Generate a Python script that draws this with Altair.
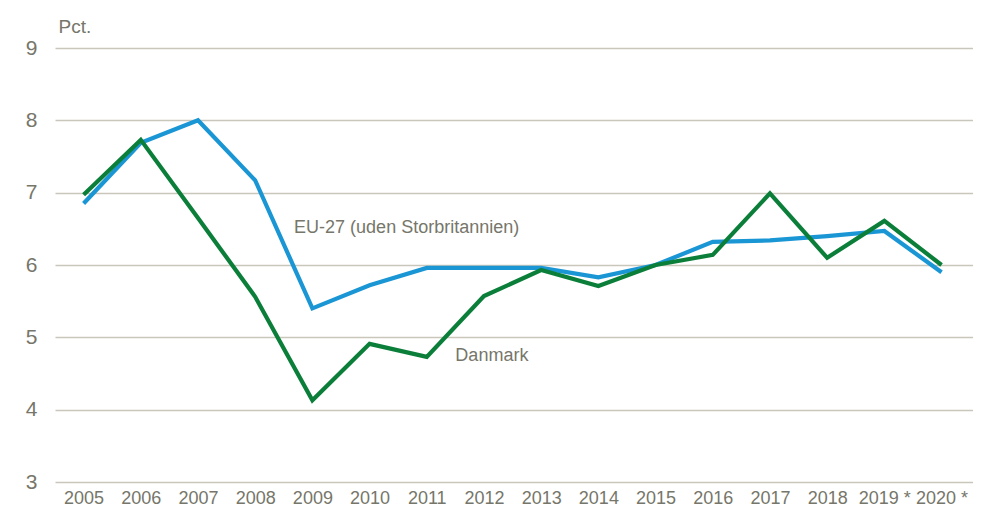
import altair as alt
import pandas as pd

years = list(range(2005, 2021))
year_labels = ["2005", "2006", "2007", "2008", "2009", "2010", "2011", "2012",
               "2013", "2014", "2015", "2016", "2017", "2018", "2019 *", "2020 *"]
eu27 = [6.85, 7.69, 8.00, 7.17, 5.40, 5.72, 5.96, 5.96, 5.96, 5.83, 6.00, 6.32, 6.34, 6.40, 6.47, 5.90]
danmark = [6.97, 7.73, 6.65, 5.56, 4.13, 4.91, 4.73, 5.57, 5.93, 5.71, 6.00, 6.14, 6.99, 6.10, 6.61, 6.00]
series_names = ["EU-27 (uden Storbritannien)", "Danmark"]
y_ticks = [3, 4, 5, 6, 7, 8, 9]

FONT = "Liberation Sans Narrow, Arial Narrow, Liberation Sans, sans-serif"
TXT = "#76766A"
BLUE = "#1A96D5"
GREEN = "#0B7F3A"

rows = []
for name, vals in zip(series_names, [eu27, danmark]):
    for y, lab, v in zip(years, year_labels, vals):
        rows.append({"year": y, "label": lab, "value": v, "series": name})
df = pd.DataFrame(rows)

label_expr = "{" + ",".join(f"'{y}':'{l}'" for y, l in zip(years, year_labels)) + "}[datum.value]"

xscale = alt.Scale(domain=[2004.5, 2020.55], nice=False, zero=False)
yscale = alt.Scale(domain=[3, 9], nice=False, zero=False)

lines = alt.Chart(df).mark_line(strokeWidth=4.2, strokeJoin="miter").encode(
    x=alt.X("year:Q", scale=xscale,
            axis=alt.Axis(values=years, labelExpr=label_expr, grid=False, ticks=False,
                          domain=False, title=None, labelFont=FONT, labelFontSize=18,
                          labelColor=TXT, labelPadding=7, labelOverlap=False)),
    y=alt.Y("value:Q", scale=yscale,
            axis=alt.Axis(values=y_ticks, format="d", grid=True, gridColor="#C9C7BB",
                          gridWidth=1.5, ticks=False, domain=False, labelFont=FONT,
                          labelFontSize=21, labelColor=TXT, labelPadding=18, title="Pct.",
                          titleAngle=0, titleAlign="left", titleBaseline="alphabetic",
                          titleX=3, titleY=-16, titleFont=FONT, titleFontSize=19,
                          titleFontWeight="normal", titleColor=TXT)),
    color=alt.Color("series:N", scale=alt.Scale(domain=series_names, range=[BLUE, GREEN]),
                    legend=None),
    detail="series:N",
)

lbl_df = pd.DataFrame({"name": series_names})
eu_text = alt.Chart(lbl_df).transform_filter(
    alt.datum.name == series_names[0]).mark_text(
    align="left", baseline="middle", font=FONT, fontSize=18, color=TXT).encode(
    x=alt.datum(2008.68), y=alt.datum(6.51), text="name:N")
dk_text = alt.Chart(lbl_df).transform_filter(
    alt.datum.name == series_names[1]).mark_text(
    align="left", baseline="middle", font=FONT, fontSize=18, color=TXT).encode(
    x=alt.datum(2011.5), y=alt.datum(4.74), text="name:N")

chart = alt.layer(lines, eu_text, dk_text).properties(
    width=918, height=434,
    autosize=alt.AutoSizeParams(type="none"),
    padding={"left": 47, "top": 40, "right": 0, "bottom": 30},
).configure_view(stroke=None)

chart.save("out.html", embed_options={"renderer": "svg", "actions": False})
